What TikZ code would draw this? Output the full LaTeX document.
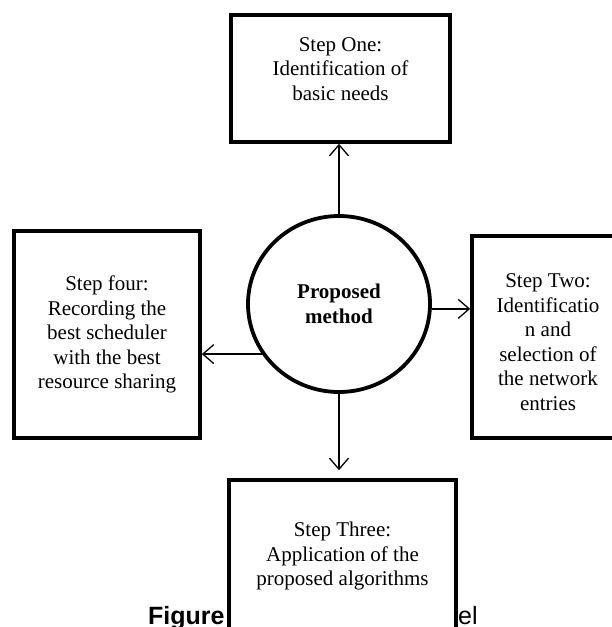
\documentclass[tikz,border=0pt]{standalone}
\usepackage{fontspec}
\setmainfont{Liberation Serif}
\newfontfamily\capfont{Liberation Sans}
\usetikzlibrary{positioning,shapes.geometric,arrows.meta}

\begin{document}
\begin{tikzpicture}[x=1pt, y=-1pt,
    stepbox/.style={rectangle, draw, line width=3.6pt, fill=white, align=center, inner sep=0pt, font=\fontsize{21}{24.5}\selectfont},
    core/.style={ellipse, draw, line width=3.8pt, fill=white, align=center, minimum width=182pt, minimum height=176pt, font=\fontsize{21}{24.5}\selectfont\bfseries},
    link/.style={line width=1.3pt, -{Straight Barb[length=11pt, width=19pt]}},
    caption/.style={font=\capfont\fontsize{25}{30}\selectfont, inner sep=0pt, anchor=base west}]

\clip (0,0) rectangle (612,627);

% Caption behind the steps
\node[caption] (figword) at (148,624) {\bfseries Figure};
\node[caption] (figend) at (458,624) {el};

% Centre and steps
\node[core] (method) at (339,304) {Proposed\\method};
\node[stepbox, minimum width=219pt, minimum height=127pt] (one) at (340.5,78.5) {Step One:\\Identification of\\basic needs\rule[-19pt]{0pt}{0pt}};
\node[stepbox, minimum width=152pt, minimum height=202pt] (two) at (548,337) {\rule{0pt}{24pt}Step Two:\\Identificatio\\n and\\selection of\\the network\\entries};
\node[stepbox, minimum width=227pt, minimum height=152pt] (three) at (342.5,556) {Step Three:\\Application of the\\proposed algorithms};
\node[stepbox, minimum width=186pt, minimum height=207pt] (four) at (107,334.5) {Step four:\\Recording the\\best scheduler\\with the best\\resource sharing};

% Connections
\draw[link] (method.north) -- (method.north |- one.south);
\draw[link] (method.-3) -- (method.-3 -| two.west);
\draw[link, shorten >=8pt] (method.south) -- (method.south |- three.north);
\draw[link] (method.213) -- (method.213 -| four.east);

\end{tikzpicture}
\end{document}
